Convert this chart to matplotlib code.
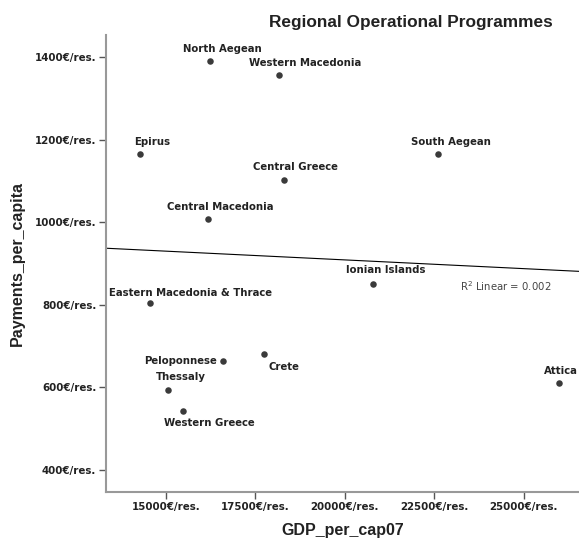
import numpy as np
import matplotlib
matplotlib.use("Agg")
import matplotlib.pyplot as plt

# Regional data: GDP per capita 2007 vs ROP payments per capita
regions = ["North Aegean", "Western Macedonia", "Epirus", "Central Greece",
           "Central Macedonia", "South Aegean", "Ionian Islands",
           "Eastern Macedonia & Thrace", "Peloponnese", "Crete", "Thessaly",
           "Western Greece", "Attica"]
gdp_per_cap07 = [16230, 18160, 14270, 18300, 16170, 22600, 20780,
                 14550, 16590, 17740, 15060, 15480, 25980]
payments_per_capita = [1390, 1356, 1164, 1103, 1007, 1164, 851,
                       805, 663, 680, 595, 544, 610]

x_ticks = [15000, 17500, 20000, 22500, 25000]
y_ticks = [400, 600, 800, 1000, 1200, 1400]
r2_text = "R$^2$ Linear = 0.002"

# label placement (offset in points, horizontal alignment)
label_offsets = [(9, 9, "center"), (19, 9, "center"), (9, 9, "center"),
                 (8, 9, "center"), (9, 9, "center"), (9, 9, "center"),
                 (9, 10, "center"), (29, 7, "center"), (-4, 0, "right"),
                 (3, -9, "left"), (9, 9, "center"), (19, -9, "center"),
                 (-10.5, 9, "left")]

fig = plt.figure(figsize=(5.79, 5.42), dpi=100)
ax = fig.add_axes([106 / 579, 1 - 492 / 542, 1 - 106 / 579, (492 - 35) / 542])

ax.scatter(gdp_per_cap07, payments_per_capita, s=22, color="#3a3a3a",
           zorder=3, linewidths=0)

xmin, xmax = 13324, 26540
ax.set_xlim(xmin, xmax)
ax.set_ylim(347, 1453)

# least-squares fit line
slope, intercept = np.polyfit(gdp_per_cap07, payments_per_capita, 1)
xs = np.array([xmin, xmax])
ax.plot(xs, slope * xs + intercept, color="black", lw=0.8, zorder=2)

for name, gx, py, (dx, dy, ha) in zip(regions, gdp_per_cap07,
                                      payments_per_capita, label_offsets):
    ax.annotate(name, (gx, py), xytext=(dx, dy), textcoords="offset points",
                ha=ha, va="center", fontsize=7.3, fontweight="bold",
                color="#222222", annotation_clip=False)

ax.text(0.748, 0.451, r2_text, transform=ax.transAxes, fontsize=7.3,
        color="#444444", ha="left", va="center")

ax.set_xticks(x_ticks)
ax.set_xticklabels([f"{v}€/res." for v in x_ticks])
ax.set_yticks(y_ticks)
ax.set_yticklabels([f"{v}€/res." for v in y_ticks])
ax.tick_params(axis="both", direction="out", length=5, width=1,
               color="#555555", labelsize=7.4, pad=2)
for lab in ax.get_xticklabels() + ax.get_yticklabels():
    lab.set_fontweight("bold")
    lab.set_color("#222222")

for side in ("top", "right"):
    ax.spines[side].set_visible(False)
for side in ("left", "bottom"):
    ax.spines[side].set_color("#999999")
    ax.spines[side].set_linewidth(1.5)

ax.set_xlabel("GDP_per_cap07", fontsize=11.5, fontweight="bold",
              color="#222222", labelpad=8, family="Liberation Sans")
ax.set_ylabel("Payments_per_capita", fontsize=11.5, fontweight="bold",
              color="#222222", labelpad=7, family="Liberation Sans")
fig.text(411 / 579, 1 - 23 / 542, "Regional Operational Programmes",
         ha="center", va="center", fontsize=12.4, fontweight="bold",
         color="#222222", family="Liberation Sans")

fig.savefig("out.png", dpi=100)
